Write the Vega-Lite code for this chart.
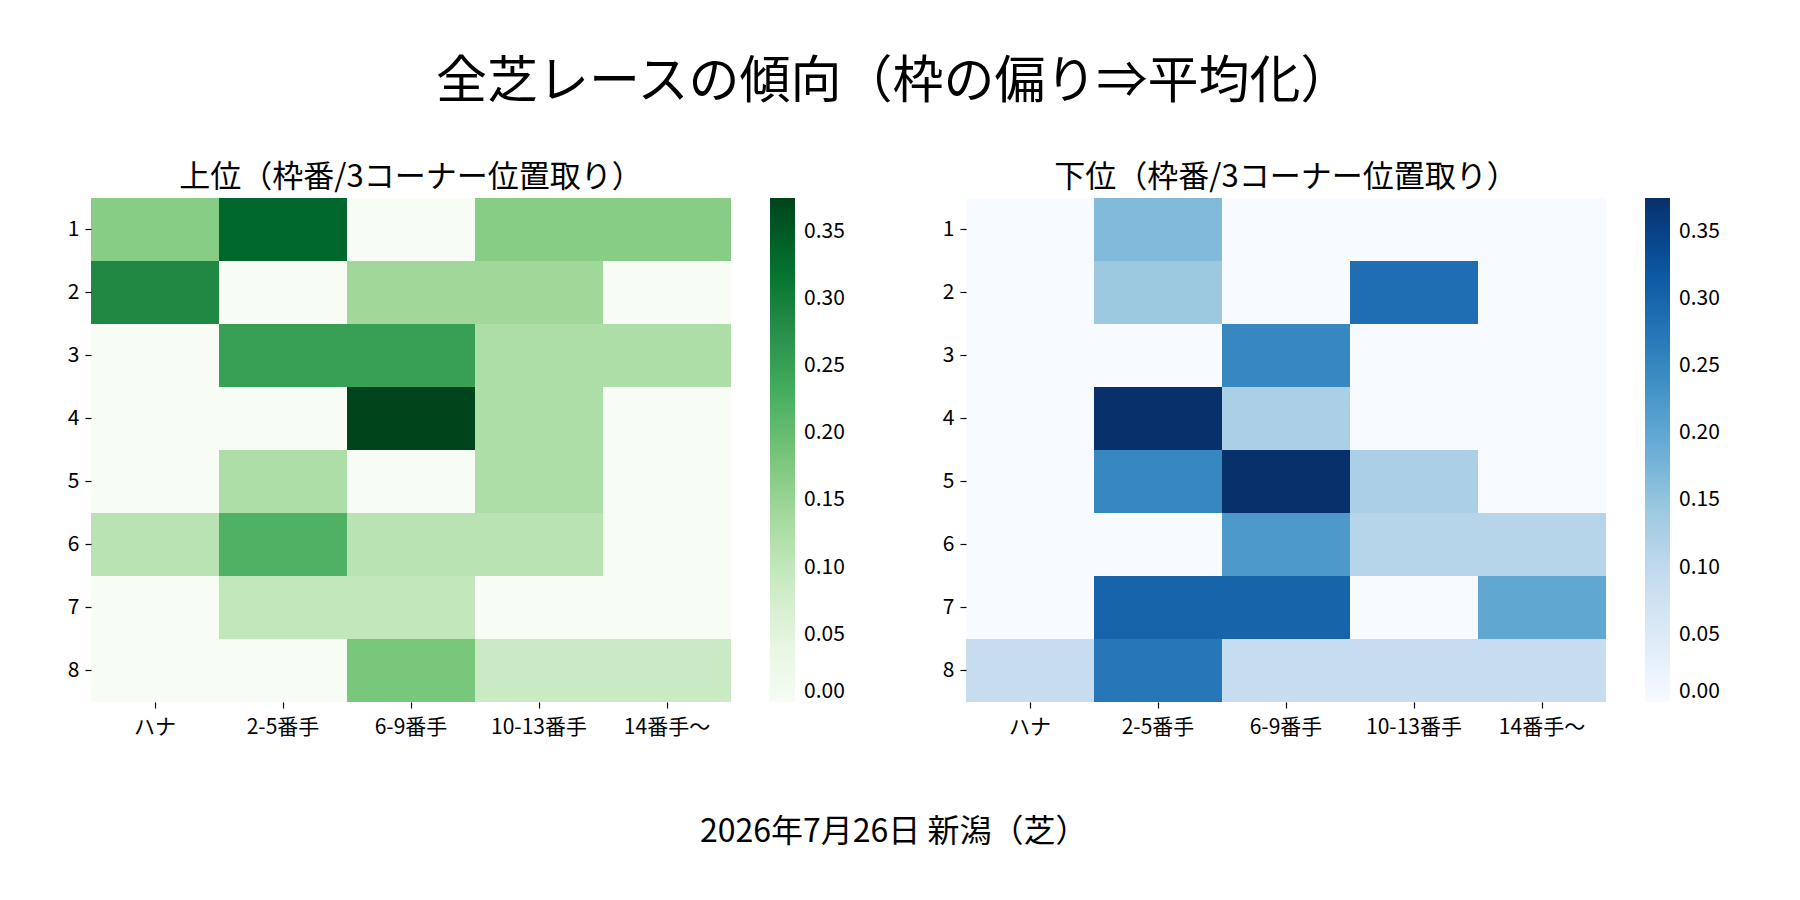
{
  "$schema": "https://vega.github.io/schema/vega-lite/v6.json",
  "background": "white",
  "padding": {"left": 67, "top": 57, "right": 0, "bottom": 20},
  "config": {
    "font": "Noto Sans CJK JP",
    "view": {"stroke": null},
    "axis": {
      "domain": false,
      "ticks": true,
      "tickColor": "#000000",
      "tickSize": 6,
      "tickWidth": 1.2,
      "labelFontSize": 21,
      "labelColor": "#000000",
      "labelFont": "Noto Sans CJK JP",
      "grid": false
    },
    "legend": {
      "labelFont": "Noto Sans CJK JP",
      "labelFontSize": 21,
      "labelColor": "#000000"
    }
  },
  "title": {
    "text": "全芝レースの傾向（枠の偏り⇒平均化）",
    "fontSize": 51,
    "fontWeight": "normal",
    "color": "#000000",
    "anchor": "middle",
    "offset": 53
  },
  "datasets": {
    "upper": [
      {"waku": "1", "pos": "ハナ", "rate": 0.1667},
      {"waku": "1", "pos": "2-5番手", "rate": 0.3333},
      {"waku": "1", "pos": "6-9番手", "rate": 0},
      {"waku": "1", "pos": "10-13番手", "rate": 0.1667},
      {"waku": "1", "pos": "14番手〜", "rate": 0.1667},
      {"waku": "2", "pos": "ハナ", "rate": 0.2857},
      {"waku": "2", "pos": "2-5番手", "rate": 0},
      {"waku": "2", "pos": "6-9番手", "rate": 0.1429},
      {"waku": "2", "pos": "10-13番手", "rate": 0.1429},
      {"waku": "2", "pos": "14番手〜", "rate": 0},
      {"waku": "3", "pos": "ハナ", "rate": 0},
      {"waku": "3", "pos": "2-5番手", "rate": 0.25},
      {"waku": "3", "pos": "6-9番手", "rate": 0.25},
      {"waku": "3", "pos": "10-13番手", "rate": 0.125},
      {"waku": "3", "pos": "14番手〜", "rate": 0.125},
      {"waku": "4", "pos": "ハナ", "rate": 0},
      {"waku": "4", "pos": "2-5番手", "rate": 0},
      {"waku": "4", "pos": "6-9番手", "rate": 0.375},
      {"waku": "4", "pos": "10-13番手", "rate": 0.125},
      {"waku": "4", "pos": "14番手〜", "rate": 0},
      {"waku": "5", "pos": "ハナ", "rate": 0},
      {"waku": "5", "pos": "2-5番手", "rate": 0.125},
      {"waku": "5", "pos": "6-9番手", "rate": 0},
      {"waku": "5", "pos": "10-13番手", "rate": 0.125},
      {"waku": "5", "pos": "14番手〜", "rate": 0},
      {"waku": "6", "pos": "ハナ", "rate": 0.1111},
      {"waku": "6", "pos": "2-5番手", "rate": 0.2222},
      {"waku": "6", "pos": "6-9番手", "rate": 0.1111},
      {"waku": "6", "pos": "10-13番手", "rate": 0.1111},
      {"waku": "6", "pos": "14番手〜", "rate": 0},
      {"waku": "7", "pos": "ハナ", "rate": 0},
      {"waku": "7", "pos": "2-5番手", "rate": 0.1},
      {"waku": "7", "pos": "6-9番手", "rate": 0.1},
      {"waku": "7", "pos": "10-13番手", "rate": 0},
      {"waku": "7", "pos": "14番手〜", "rate": 0},
      {"waku": "8", "pos": "ハナ", "rate": 0},
      {"waku": "8", "pos": "2-5番手", "rate": 0},
      {"waku": "8", "pos": "6-9番手", "rate": 0.1818},
      {"waku": "8", "pos": "10-13番手", "rate": 0.0909},
      {"waku": "8", "pos": "14番手〜", "rate": 0.0909}
    ],
    "lower": [
      {"waku": "1", "pos": "ハナ", "rate": 0},
      {"waku": "1", "pos": "2-5番手", "rate": 0.1667},
      {"waku": "1", "pos": "6-9番手", "rate": 0},
      {"waku": "1", "pos": "10-13番手", "rate": 0},
      {"waku": "1", "pos": "14番手〜", "rate": 0},
      {"waku": "2", "pos": "ハナ", "rate": 0},
      {"waku": "2", "pos": "2-5番手", "rate": 0.1429},
      {"waku": "2", "pos": "6-9番手", "rate": 0},
      {"waku": "2", "pos": "10-13番手", "rate": 0.2857},
      {"waku": "2", "pos": "14番手〜", "rate": 0},
      {"waku": "3", "pos": "ハナ", "rate": 0},
      {"waku": "3", "pos": "2-5番手", "rate": 0},
      {"waku": "3", "pos": "6-9番手", "rate": 0.25},
      {"waku": "3", "pos": "10-13番手", "rate": 0},
      {"waku": "3", "pos": "14番手〜", "rate": 0},
      {"waku": "4", "pos": "ハナ", "rate": 0},
      {"waku": "4", "pos": "2-5番手", "rate": 0.375},
      {"waku": "4", "pos": "6-9番手", "rate": 0.125},
      {"waku": "4", "pos": "10-13番手", "rate": 0},
      {"waku": "4", "pos": "14番手〜", "rate": 0},
      {"waku": "5", "pos": "ハナ", "rate": 0},
      {"waku": "5", "pos": "2-5番手", "rate": 0.25},
      {"waku": "5", "pos": "6-9番手", "rate": 0.375},
      {"waku": "5", "pos": "10-13番手", "rate": 0.125},
      {"waku": "5", "pos": "14番手〜", "rate": 0},
      {"waku": "6", "pos": "ハナ", "rate": 0},
      {"waku": "6", "pos": "2-5番手", "rate": 0},
      {"waku": "6", "pos": "6-9番手", "rate": 0.2222},
      {"waku": "6", "pos": "10-13番手", "rate": 0.1111},
      {"waku": "6", "pos": "14番手〜", "rate": 0.1111},
      {"waku": "7", "pos": "ハナ", "rate": 0},
      {"waku": "7", "pos": "2-5番手", "rate": 0.3},
      {"waku": "7", "pos": "6-9番手", "rate": 0.3},
      {"waku": "7", "pos": "10-13番手", "rate": 0},
      {"waku": "7", "pos": "14番手〜", "rate": 0.2},
      {"waku": "8", "pos": "ハナ", "rate": 0.0909},
      {"waku": "8", "pos": "2-5番手", "rate": 0.2727},
      {"waku": "8", "pos": "6-9番手", "rate": 0.0909},
      {"waku": "8", "pos": "10-13番手", "rate": 0.0909},
      {"waku": "8", "pos": "14番手〜", "rate": 0.0909}
    ]
  },
  "vconcat": [
    {
      "title": {
        "text": "2026年7月26日 新潟（芝）",
        "orient": "bottom",
        "anchor": "middle",
        "fontSize": 32,
        "fontWeight": "normal",
        "color": "#000000",
        "offset": 80
      },
      "spacing": 97,
      "resolve": {"scale": {"color": "independent"}},
      "hconcat": [
        {
          "title": {"text": "上位（枠番/3コーナー位置取り）", "fontSize": 31, "fontWeight": "normal", "color": "#000000", "offset": 4},
          "width": 640,
          "height": 504,
          "data": {"name": "upper"},
          "mark": {"type": "rect"},
          "encoding": {
            "x": {
              "field": "pos", "type": "ordinal", "title": null,
              "sort": ["ハナ", "2-5番手", "6-9番手", "10-13番手", "14番手〜"],
              "scale": {"paddingInner": 0, "paddingOuter": 0},
              "axis": {"labelAngle": 0, "labelPadding": 8}
            },
            "y": {
              "field": "waku", "type": "ordinal", "title": null,
              "sort": ["1", "2", "3", "4", "5", "6", "7", "8"],
              "scale": {"paddingInner": 0, "paddingOuter": 0},
              "axis": {"labelPadding": 6}
            },
            "color": {
              "field": "rate", "type": "quantitative",
              "scale": {
                "domain": [0, 0.046875, 0.09375, 0.140625, 0.1875, 0.234375, 0.28125, 0.328125, 0.375],
                "range": ["#f7fcf5", "#e5f5e0", "#c7e9c0", "#a1d99b", "#74c476", "#41ab5d", "#238b45", "#006d2c", "#00441b"],
                "interpolate": "rgb"
              },
              "legend": {
                "title": null, "orient": "right", "offset": 39, "padding": 0,
                "gradientLength": 504, "gradientThickness": 25, "gradientStrokeWidth": 0,
                "values": [0, 0.05, 0.1, 0.15, 0.2, 0.25, 0.3, 0.35],
                "format": ".2f", "labelBaseline": "middle", "labelOffset": 9
              }
            }
          }
        },
        {
          "title": {"text": "下位（枠番/3コーナー位置取り）", "fontSize": 31, "fontWeight": "normal", "color": "#000000", "offset": 4},
          "width": 640,
          "height": 504,
          "data": {"name": "lower"},
          "mark": {"type": "rect"},
          "encoding": {
            "x": {
              "field": "pos", "type": "ordinal", "title": null,
              "sort": ["ハナ", "2-5番手", "6-9番手", "10-13番手", "14番手〜"],
              "scale": {"paddingInner": 0, "paddingOuter": 0},
              "axis": {"labelAngle": 0, "labelPadding": 8}
            },
            "y": {
              "field": "waku", "type": "ordinal", "title": null,
              "sort": ["1", "2", "3", "4", "5", "6", "7", "8"],
              "scale": {"paddingInner": 0, "paddingOuter": 0},
              "axis": {"labelPadding": 6}
            },
            "color": {
              "field": "rate", "type": "quantitative",
              "scale": {
                "domain": [0, 0.046875, 0.09375, 0.140625, 0.1875, 0.234375, 0.28125, 0.328125, 0.375],
                "range": ["#f7fbff", "#deebf7", "#c6dbef", "#9ecae1", "#6baed6", "#4292c6", "#2171b5", "#08519c", "#08306b"],
                "interpolate": "rgb"
              },
              "legend": {
                "title": null, "orient": "right", "offset": 39, "padding": 0,
                "gradientLength": 504, "gradientThickness": 25, "gradientStrokeWidth": 0,
                "values": [0, 0.05, 0.1, 0.15, 0.2, 0.25, 0.3, 0.35],
                "format": ".2f", "labelBaseline": "middle", "labelOffset": 9
              }
            }
          }
        }
      ]
    }
  ]
}
